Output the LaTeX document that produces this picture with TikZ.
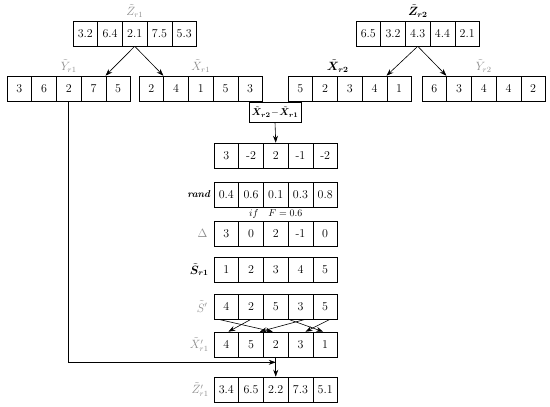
\documentclass[tikz,border=0pt]{standalone}
\usepackage{amsmath}
\usepackage{bm}
\usetikzlibrary{arrows.meta,calc}

\tikzset{
  cell/.style={draw, semithick, minimum width=24.7pt, minimum height=25pt, inner sep=0pt, font=\large},
  lab/.style={font=\large, inner sep=1pt},
  faint/.style={lab, text=black!45},
  arr/.style={-{Stealth[length=7pt,width=5pt]}, semithick},
}

% one row of five cells: name, left x, top y, values
\newcommand{\cellrow}[4]{%
  \foreach \v [count=\i] in {#4}
    \node[cell] (#1-\i) at ({#2+(\i-0.5)*24.7}, {#3+12.5}) {\v};%
}

\begin{document}
\begin{tikzpicture}[x=1pt, y=-1pt]
  \useasboundingbox (0,0) rectangle (550,407);

  % the two parents
  \cellrow{zra}{73}{21}{3.2,6.4,2.1,7.5,5.3}
  \cellrow{yra}{7}{76}{3,6,2,7,5}
  \cellrow{xra}{139}{76}{2,4,1,5,3}
  \cellrow{zrb}{356}{21}{6.5,3.2,4.3,4.4,2.1}
  \cellrow{xrb}{288}{76}{5,2,3,4,1}
  \cellrow{yrb}{422}{76}{6,3,4,4,2}

  \node[faint, above=2pt] at (zra-3.north) {$\tilde{Z}_{r1}$};
  \node[faint, above=2pt] at (yra-3.north) {$\tilde{Y}_{r1}$};
  \node[faint, above=2pt] at (xra-3.north) {$\tilde{X}_{r1}$};
  \node[lab, above=2pt] at (zrb-3.north) {$\tilde{\bm Z}_{\bm{r2}}$};
  \node[lab, above=2pt] at (xrb-2.north east) {$\tilde{\bm X}_{\bm{r2}}$};
  \node[faint, above=2pt] at (yrb-3.north) {$\tilde{Y}_{r2}$};

  \draw[arr] (zra-3.south) -- (yra-5.north west);
  \draw[arr] (zra-3.south) -- (xra-2.north west);
  \draw[arr] (zrb-3.south) -- (xrb-5.north west);
  \draw[arr] (zrb-3.south) -- (yrb-2.north west);

  % difference
  \node[draw, semithick, minimum width=52pt, minimum height=20pt, inner sep=2pt, font=\normalsize] (sub) at (275,112)
    {$\tilde{\bm X}_{\bm{r2}}\!-\!\tilde{\bm X}_{\bm{r1}}$};

  \cellrow{dif}{214}{143}{3,-2,2,-1,-2}
  \cellrow{rnd}{214}{182}{0.4,0.6,0.1,0.3,0.8}
  \cellrow{dlt}{214}{221}{3,0,2,-1,0}
  \cellrow{srw}{214}{257}{1,2,3,4,5}
  \cellrow{spr}{214}{294}{4,2,5,3,5}
  \cellrow{xpr}{214}{332}{4,5,2,3,1}
  \cellrow{zpr}{214}{377}{3.4,6.5,2.2,7.3,5.1}

  \draw[arr] (sub.south) -- (dif-3.north);

  \node[lab, left=2pt, font=\normalsize] at (rnd-1.west) {\textbf{\textit{rand}}};
  \node[lab, font=\normalsize] (cond) at ($(rnd-3.south)!0.5!(dlt-3.north)$) {$if\quad F=0.6$};
  \node[faint, left=5pt] at (dlt-1.west) {$\Delta$};
  \node[lab, left=4pt] at (srw-1.west) {$\tilde{\bm S}_{\bm{r1}}$};
  \node[faint, left=5pt] at (spr-1.west) {$\tilde{S}'$};
  \node[faint, left=4pt] at (xpr-1.west) {$\tilde{X}'_{r1}$};
  \node[faint, left=4pt] at (zpr-1.west) {$\tilde{Z}'_{r1}$};

  % swaps
  \draw[arr] ($(spr-1.south)+(-8,0)$) -- ($(xpr-3.north)+(-3,0)$);
  \draw[arr] (spr-2.south) -- ($(xpr-1.north)+(2,0)$);
  \draw[arr] ($(spr-4.south)+(5,0)$) -- ($(xpr-3.north)+(-16,0)$);
  \draw[arr] ($(spr-4.south)+(-12,0)$) -- ($(xpr-5.north)+(-2,0)$);
  \draw[arr] ($(spr-5.south)+(5,0)$) -- ($(xpr-4.north)+(5,0)$);

  % merge into the child
  \coordinate (jn) at ($(xpr-3.south)+(0,5)$);
  \draw[arr] (yra-3.south) |- (jn);
  \draw[arr] (xpr-3.south) -- (zpr-3.north);
\end{tikzpicture}
\end{document}
